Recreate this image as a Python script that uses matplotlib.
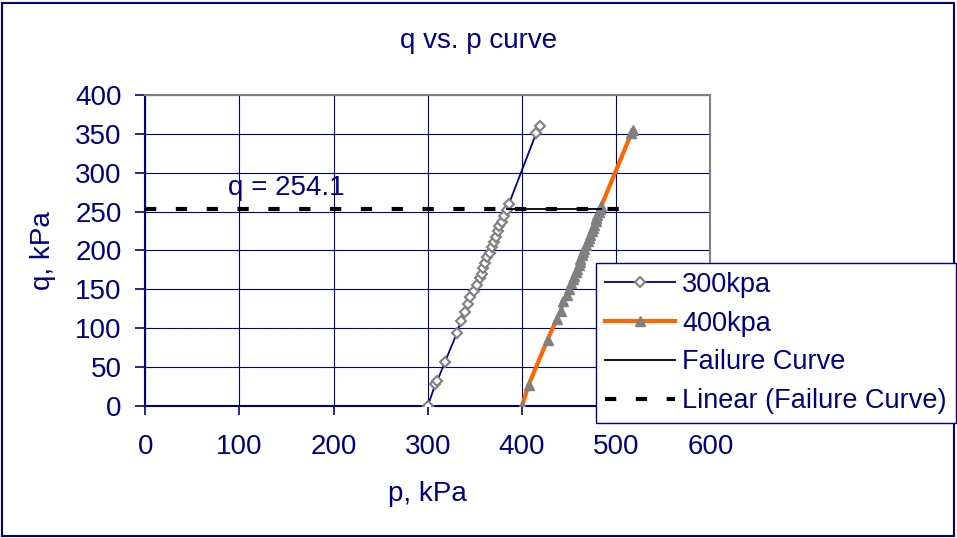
import matplotlib.pyplot as plt
import numpy as np
from matplotlib.patches import Rectangle

plt.rcParams['font.family'] = ['Liberation Sans', 'DejaVu Sans']

# q vs. p data (kPa)
p_300 = [300, 308, 310, 318, 331, 335, 339, 343, 345, 349, 352, 355, 357, 359,
         361, 363, 366, 368, 370, 372, 374, 376, 379, 381, 384, 386, 415, 419]
q_300 = [0, 28, 32, 56, 94, 109, 121, 131, 140, 148, 156, 164, 170, 177,
         184, 191, 197, 205, 211, 218, 225, 232, 237, 245, 252, 260, 351, 360]

p_400 = [400, 407, 427, 437, 441, 443, 448, 450, 452, 454, 455, 457, 458, 460,
         461, 462, 464, 465, 466, 468, 470, 471, 472, 474, 475, 476, 478, 479,
         480, 482, 483, 484, 516, 518]
q_400 = [0, 27, 85, 112, 122, 135, 143, 151, 158, 163, 167, 172, 176, 181,
         185, 189, 194, 198, 202, 207, 212, 216, 220, 225, 229, 233, 238, 242,
         246, 250, 254, 257, 351, 355]

p_fail = [384, 484]
q_fail = [254.1, 254.1]

navy = '#000080'
fs = 20

fig = plt.figure(figsize=(9.57, 5.38), dpi=100)
ax = fig.add_axes([0.1518, 0.2459, 0.5906, 0.5770])

ax.grid(True, color=navy, linewidth=0.8)
ax.set_axisbelow(True)

ax.plot(p_300, q_300, color=navy, linewidth=1.3, marker='D', markersize=5,
        markerfacecolor='white', markeredgecolor='#808080', markeredgewidth=1.5,
        label='300kpa', zorder=3)
ax.plot(p_400, q_400, color='#FF6600', linewidth=3, marker='^', markersize=7,
        markerfacecolor='#808080', markeredgecolor='#808080',
        label='400kpa', zorder=3)
ax.plot(p_fail, q_fail, color='black', linewidth=1.3, label='Failure Curve', zorder=4)

# linear trendline of the failure curve, extended back to 0
coef = np.polyfit(p_fail, q_fail, 1)
p_tr = np.array([0, p_fail[-1] + 22])
ax.plot(p_tr, np.polyval(coef, p_tr), color='black', linewidth=3,
        linestyle=(0, (2.7, 4.7)), label='Linear (Failure Curve)', zorder=5)
ax.text(150, 281, 'q = 254.1', color=navy, fontsize=fs, ha='center', va='center')

ax.set_xlim(0, 600)
ax.set_ylim(0, 400)
ax.set_xticks(range(0, 601, 100))
ax.set_yticks(range(0, 401, 50))
ax.tick_params(axis='x', colors=navy, labelsize=fs, length=6.5, width=1.2, pad=14)
ax.tick_params(axis='y', colors=navy, labelsize=fs, length=7, width=1.2, pad=10)

for s in ['top', 'right']:
    ax.spines[s].set_color('#808080')
    ax.spines[s].set_linewidth(1.5)
for s in ['left', 'bottom']:
    ax.spines[s].set_color(navy)
    ax.spines[s].set_linewidth(1.5)

ax.set_xlabel('p, kPa', color=navy, fontsize=fs, va='center')
ax.xaxis.set_label_coords(0.5, -0.284)
ax.set_ylabel('q, kPa', color=navy, fontsize=fs, va='center')
ax.yaxis.set_label_coords(-0.181, 0.5)

fig.suptitle('q vs. p curve', color=navy, fontsize=fs, x=0.5, y=0.924, va='center')

leg = fig.legend(loc='upper left', bbox_to_anchor=(0.6228, 0.5112), borderaxespad=0,
                 fontsize=19.5, handlelength=2.6, handletextpad=0.25, labelspacing=0.47,
                 borderpad=0.33, fancybox=False, framealpha=1, edgecolor=navy,
                 numpoints=1)
leg.get_frame().set_linewidth(1.0)
for t in leg.get_texts():
    t.set_color(navy)

fig.patches.append(Rectangle((0.002, 0.004), 0.995, 0.99, transform=fig.transFigure,
                             fill=False, edgecolor=navy, linewidth=1.5))

fig.savefig('out.png', dpi=100)
